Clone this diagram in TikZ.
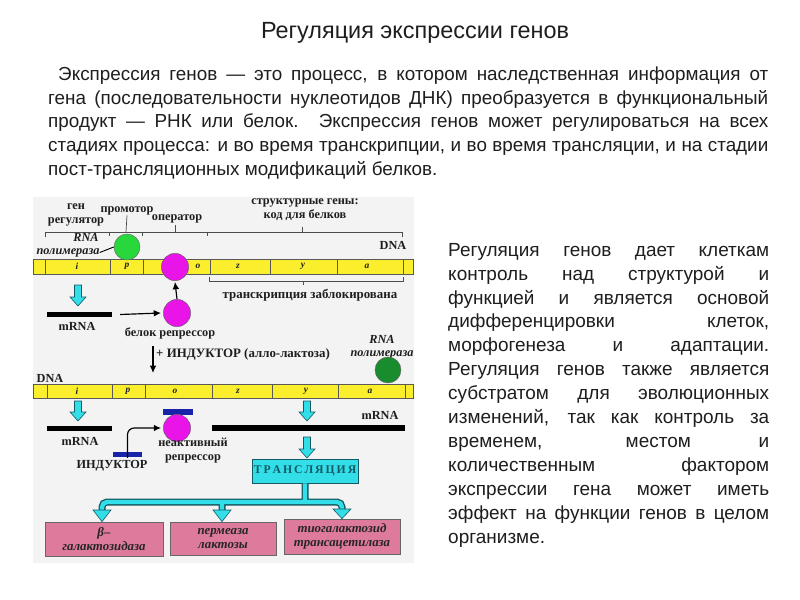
\documentclass[tikz,border=0pt]{standalone}
\usepackage{fontspec}
\setmainfont{Liberation Sans}
\newfontfamily\serifb{Liberation Serif}
\usetikzlibrary{arrows.meta}
\definecolor{ybar}{RGB}{250,238,45}
\definecolor{cyanf}{RGB}{50,222,232}
\definecolor{darkteal}{RGB}{20,90,100}
\definecolor{magf}{RGB}{232,20,232}
\definecolor{greenf}{RGB}{40,215,60}
\definecolor{dgreenf}{RGB}{25,140,45}
\definecolor{blueb}{RGB}{25,35,170}
\definecolor{pinkf}{RGB}{222,122,155}
\definecolor{bgdiag}{RGB}{243,243,243}
\definecolor{txt}{RGB}{30,30,30}
\newcommand{\cyandown}[3]{%
  \filldraw[fill=cyanf, draw=darkteal, line width=0.5pt]
    (#1-3.5,#2) -- (#1+3.5,#2) -- (#1+3.5,#3-9) -- (#1+8,#3-9) -- (#1,#3)
    -- (#1-8,#3-9) -- (#1-3.5,#3-9) -- cycle;}
\tikzset{
  lbl/.style={font=\serifb\bfseries\fontsize{10.5}{12}\selectfont, inner sep=0, align=center, text=txt},
  biglbl/.style={lbl, font=\serifb\bfseries\fontsize{11}{12}\selectfont},
  ilbl/.style={font=\serifb\bfseries\itshape\fontsize{10.5}{11.5}\selectfont, inner sep=0, align=center, text=txt},
  glbl/.style={font=\serifb\bfseries\itshape\fontsize{8}{9}\selectfont, inner sep=0, text=txt},
  bar/.style={fill=ybar, draw=black!65, line width=0.5pt},
  brk/.style={draw=black!70, line width=0.6pt},
  arr/.style={draw=black, line width=1pt, -{Latex[length=2.2mm,width=2mm]}},
  blackbar/.style={fill=black, inner sep=0, minimum height=1.6mm},
  bluebar/.style={fill=blueb, inner sep=0, minimum height=1.8mm},
  ball/.style={circle, draw=black!60, line width=0.4pt, inner sep=0, minimum size=8.2mm},
  pinkbox/.style={fill=pinkf, draw=black!60, line width=0.6pt, inner sep=0, align=center,
    font=\serifb\bfseries\itshape\fontsize{11}{12}\selectfont, text=black!85},
  pipe/.style={draw=cyanf, line width=1.3mm, rounded corners=1.5mm,
    preaction={draw=darkteal, line width=2.1mm}},
  bodytext/.style={inner sep=0, anchor=north west, align=justify, text=txt,
    font=\fontsize{16.1}{20.1}\selectfont}
}
\begin{document}
\begin{tikzpicture}[x=0.3mm,y=-0.3mm]
\useasboundingbox (0,0) rectangle (800,600);
\fill[white] (0,0) rectangle (800,600);

% title and text
\node[font=\fontsize{20}{24}\selectfont, text=txt, inner sep=0] (title) at (415,33) {Регуляция экспрессии генов};
\node[bodytext, text width=216mm] (intro) at (48,67) {\tolerance=10000\hbadness=10000\hyphenpenalty=10000\exhyphenpenalty=10000%
\hspace*{3mm}Экспрессия генов — это процесс, в котором наследственная информация от\linebreak
гена (последовательности нуклеотидов ДНК) преобразуется в функциональный\linebreak
продукт — РНК или белок. Экспрессия генов может регулироваться на всех\linebreak
стадиях процесса: и во время транскрипции, и во время трансляции, и на стадии\linebreak
пост-трансляционных модификаций белков.};
\node[bodytext, text width=96.3mm, font=\fontsize{16.2}{20.4}\selectfont] (side) at (448,243) {\tolerance=10000\hbadness=10000\hyphenpenalty=10000%
Регуляция генов дает клеткам\linebreak
контроль над структурой и\linebreak
функцией и является основой\linebreak
дифференцировки клеток,\linebreak
морфогенеза и адаптации.\linebreak
Регуляция генов также является\linebreak
субстратом для эволюционных\linebreak
изменений, так как контроль за\linebreak
временем, местом и\linebreak
количественным фактором\linebreak
экспрессии гена может иметь\linebreak
эффект на функции генов в целом\linebreak
организме.};

% diagram background
\fill[bgdiag] (33,197) rectangle (414,563);

% top labels
\node[lbl] (genreg) at (76,215) {ген\\регулятор};
\node[lbl] (prom) at (127,211) {промотор};
\node[lbl] (oper) at (177,219) {оператор};
\node[lbl] (struct) at (305,210) {структурные гены:\\код для белков};
\draw[brk] (45,237) -- (45,232) -- (402,232) -- (402,237);
\draw[brk] (109,232) -- (109,236) (142,232) -- (142,236) (207,232) -- (207,236);
\draw[brk] (126,232) -- (prom.south);
\draw[brk] (175,232) -- (175,225);
\draw[brk] (302,232) -- (302,227);
\node[lbl] (dna1) at (393,245) {DNA};

% first DNA
\draw[bar] (33,259) rectangle (413,274);
\foreach \xx in {45,110,143,210,270,337,403} \draw[black!65, line width=0.5pt] (\xx,259) -- (\xx,274);
\node[glbl] (gi1) at (77,266.5) {i};
\node[glbl] (gp1) at (127,266.5) {p};
\node[glbl] (go1) at (198,266.5) {o};
\node[glbl] (gz1) at (238,266.5) {z};
\node[glbl] (gy1) at (303,266.5) {y};
\node[glbl] (ga1) at (367,266.5) {a};

\node[ilbl] (rnalbl1) at (86,237.5) {RNA};
\node[ilbl] (pol1) at (68,252.5) {полимераза};
\node[ball, fill=greenf, minimum size=7.8mm] (rnap1) at (127,247) {};
\draw[black, line width=0.8pt] (pol1.east) -- (rnap1.west);
\node[ball, fill=magf] (rep1) at (175,267) {};

\draw[brk] (209,277) -- (209,281) -- (403,281) -- (403,277) (303,281) -- (303,285);
\node[biglbl] (blocked) at (310,295) {транскрипция заблокирована};

% repressor synthesis
\cyandown{78}{285}{306}
\node[blackbar, minimum width=19.5mm] (mrna1) at (79.5,314.5) {};
\node[lbl] (mrnal1) at (77,326) {mRNA};
\node[ball, fill=magf] (rep2) at (177,313) {};
\path (mrna1.east) ++(8,0) coordinate (m1s);
\draw[arr] (m1s) -- ([xshift=-0.6mm]rep2.west);
\draw[arr] (rep2.north) -- ([yshift=-0.3mm]rep1.south);
\node[lbl] (replbl) at (170,333) {белок репрессор};

\coordinate (ind1s) at (153,346);
\coordinate (ind1e) at (153,373);
\draw[arr] (ind1s) -- (ind1e);
\node[biglbl, anchor=west] (indlbl) at (156,354) {+ ИНДУКТОР (алло-лактоза)};

% second DNA
\node[lbl] (dna2) at (50,378) {DNA};
\node[ilbl] (rnalbl2) at (382,347) {RNA\\полимераза};
\draw[bar] (33,384) rectangle (413,398);
\foreach \xx in {47,112,145,212,272,338,405} \draw[black!65, line width=0.5pt] (\xx,384) -- (\xx,398);
\node[glbl] (gi2) at (77,391) {i};
\node[glbl] (gp2) at (128,391) {p};
\node[glbl] (go2) at (175,391) {o};
\node[glbl] (gz2) at (238,391) {z};
\node[glbl] (gy2) at (306,391) {y};
\node[glbl] (ga2) at (370,391) {a};
\node[ball, fill=dgreenf, minimum size=7.8mm] (rnap2) at (388,370) {};

\cyandown{78}{401}{421}
\node[blackbar, minimum width=19.5mm, minimum height=1.5mm] (mrna2) at (79.5,428.5) {};
\node[lbl] (mrnal2) at (80,441) {mRNA};

\node[bluebar, minimum width=9mm] (ind1) at (178,412) {};
\node[ball, fill=magf] (rep3) at (177,428) {};
\node[bluebar, minimum width=8.7mm, minimum height=1.5mm] (ind2) at (127.5,454.5) {};
\draw[arr, rounded corners=2mm] ([yshift=-1.8mm]ind2.north) |- ([xshift=-0.6mm]rep3.west);
\node[lbl] (indlbl2) at (112,466) {ИНДУКТОР};
\node[lbl] (inact) at (193,451) {неактивный\\репрессор};

\node[blackbar, minimum width=57.9mm, minimum height=1.8mm] (mrna3) at (308.5,428) {};
\node[lbl] (mrnal3) at (380,415) {mRNA};
\cyandown{307}{401}{421}
\cyandown{307}{437}{458}

% translation
\node[fill=cyanf, draw=darkteal, line width=0.6pt, minimum width=31.8mm, minimum height=7.2mm, inner sep=0,
  font=\serifb\bfseries\fontsize{10}{11}\selectfont, text=darkteal] (trans) at (305,471) {Т\,Р\,А\,Н\,С\,Л\,Я\,Ц\,И\,Я};
\coordinate (junc) at (305,502);
\coordinate (j1) at (102,510);
\coordinate (j2) at (222,510);
\coordinate (j3) at (342,509);
\draw[pipe] (trans.south) -- (junc) (j1) |- (junc) -| (j3) (junc -| j2) -- (j2);
\node[pinkbox, minimum width=35.4mm, minimum height=10.2mm] (b1) at (104,539) {β–\\галактозидаза};
\node[pinkbox, minimum width=31.8mm, minimum height=9.9mm] (b2) at (223,538.5) {пермеаза\\лактозы};
\node[pinkbox, minimum width=34.8mm, minimum height=10.5mm] (b3) at (342,536.5) {тиогалактозид\\трансацетилаза};
\foreach \j/\b in {j1/b1,j2/b2,j3/b3}
  \filldraw[fill=cyanf, draw=darkteal, line width=0.5pt] (\j) ++(-9,0) -- ++(18,0) -- (\b.north -| \j) -- cycle;
\end{tikzpicture}
\end{document}
